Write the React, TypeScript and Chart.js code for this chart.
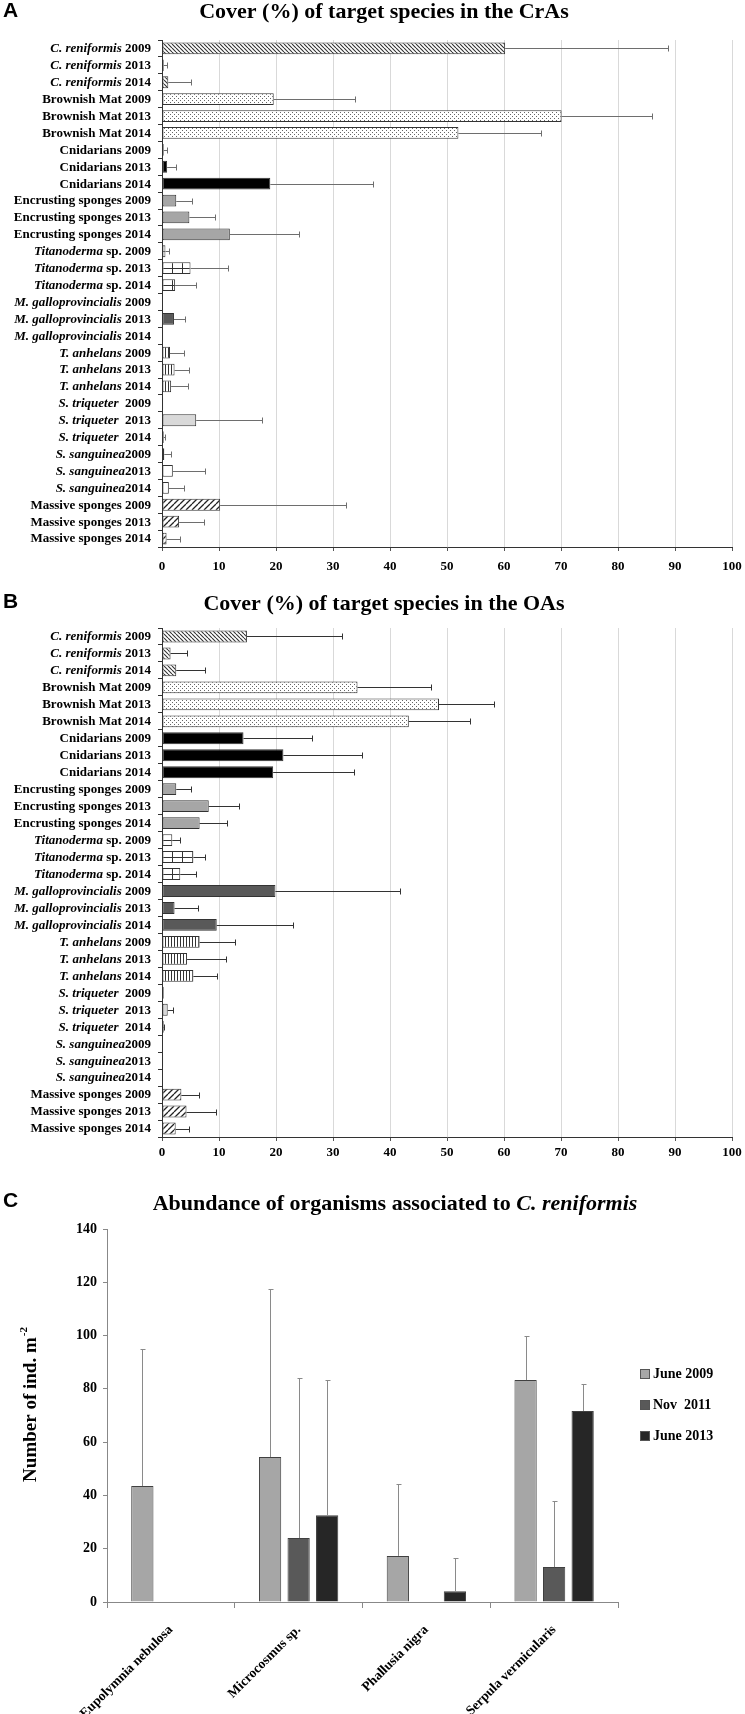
import React, { useEffect, useRef } from "react";
import { Chart, registerables } from "chart.js";

Chart.register(...registerables);

const SERIF = "'Liberation Serif', 'Times New Roman', serif";
const SANS = "'Liberation Sans', Arial, sans-serif";

// ---------- data: panels A and B ----------
const years = ["2009", "2013", "2014"];
const groupItalic = ["C. reniformis", "", "", "", "Titanoderma", "M. galloprovincialis", "T. anhelans", "S. triqueter", "S. sanguinea", ""];
const groupPlain = [" ", "Brownish Mat ", "Cnidarians ", "Encrusting sponges ", " sp. ", " ", " ", "  ", "", "Massive sponges "];

const crasCover = [60.2, 0.3, 1.1, 19.6, 70.1, 52, 0.3, 0.9, 19, 2.5, 4.8, 11.9, 0.6, 5, 2.3, 0, 2.1, 0.2, 1.4, 2.2, 1.6, 0.2, 6, 0.3, 0.4, 1.9, 1.2, 10.2, 3, 0.8];
const crasSD = [28.6, 0.6, 3.9, 14.2, 15.9, 14.5, 0.5, 1.5, 18, 2.8, 4.5, 12.1, 0.7, 6.6, 3.7, 0, 1.9, 0, 2.4, 2.5, 2.9, 0, 11.5, 0.2, 1.1, 5.7, 2.6, 22.1, 4.4, 2.4];

const oasCover = [14.9, 1.5, 2.5, 34.3, 48.6, 43.3, 14.3, 21.3, 19.5, 2.5, 8.2, 6.6, 1.8, 5.5, 3.2, 19.9, 2.2, 9.6, 6.6, 4.4, 5.5, 0.3, 1.0, 0.3, 0, 0.2, 0, 3.4, 4.3, 2.4];
const oasSD = [16.6, 2.9, 5.1, 12.9, 9.7, 10.7, 12, 13.7, 14.1, 2.5, 5.3, 4.8, 1.4, 2, 2.8, 21.9, 4.1, 13.3, 6.2, 6.8, 4.2, 0, 1.0, 0.1, 0, 0, 0, 3.1, 5.1, 2.4];

const coverMin = 0;
const coverMax = 100;
const coverStep = 10;

// ---------- data: panel C ----------
const abundCategories = ["Eupolymnia nebulosa", "Microcosmus sp.", "Phallusia nigra", "Serpula vermicularis"];
const seriesNames = ["June 2009", "Nov  2011", "June 2013"];
const june2009 = [43.5, 54.4, 17.3, 83.3];
const june2009SD = [51.5, 63, 27, 16.5];
const nov2011 = [0, 24, 0, 13.1];
const nov2011SD = [0, 60, 0, 24.8];
const june2013 = [0, 32.6, 4, 71.7];
const june2013SD = [0, 50.7, 12.5, 10];
const abundMin = 0;
const abundMax = 140;
const abundStep = 20;

// ---------- styles ----------
const groupFill = ["hatchDown", "dots", "#000000", "#a6a6a6", "bigGrid", "#595959", "vstripes", "#d9d9d9", "#ffffff", "hatchUp"];
const seriesColors = ["#a6a6a6", "#595959", "#262626"];

const coverLabels = groupItalic.flatMap((it, g) => years.map((y) => it + groupPlain[g] + y));

function tile(w: number, h: number, draw: (g: CanvasRenderingContext2D) => void) {
  const c = document.createElement("canvas");
  c.width = w;
  c.height = h;
  const g = c.getContext("2d")!;
  g.fillStyle = "#ffffff";
  g.fillRect(0, 0, w, h);
  draw(g);
  return c;
}

const tiles: Record<string, HTMLCanvasElement> = {};
function getTile(kind: string) {
  if (tiles[kind]) return tiles[kind];
  let t: HTMLCanvasElement;
  if (kind === "hatchDown") {
    const s = 4;
    t = tile(s, s, (g) => {
      g.strokeStyle = "#333";
      g.lineWidth = 1.1;
      g.beginPath();
      for (const k of [-s, 0, s]) {
        g.moveTo(k, 0);
        g.lineTo(k + s, s);
      }
      g.stroke();
    });
  } else if (kind === "hatchUp") {
    const s = 6;
    t = tile(s, s, (g) => {
      g.strokeStyle = "#222";
      g.lineWidth = 1.3;
      g.beginPath();
      for (const k of [-s, 0, s]) {
        g.moveTo(k, s);
        g.lineTo(k + s, 0);
      }
      g.stroke();
    });
  } else if (kind === "dots") {
    t = tile(4, 4, (g) => {
      g.fillStyle = "#666";
      g.fillRect(0, 0, 1, 1);
      g.fillRect(2, 2, 1, 1);
    });
  } else if (kind === "vstripes") {
    t = tile(3, 2, (g) => {
      g.fillStyle = "#333";
      g.fillRect(0, 0, 1, 2);
    });
  } else {
    // bigGrid
    t = tile(10, 40, (g) => {
      g.fillStyle = "#333";
      g.fillRect(0, 0, 1, 40);
      g.fillRect(0, 0, 10, 1);
    });
  }
  tiles[kind] = t;
  return t;
}

function fillFor(c: any): any {
  const i = c.dataIndex;
  if (i === undefined || i === null) return "#ffffff";
  const kind = groupFill[Math.floor(i / 3)];
  if (kind.startsWith("#")) return kind;
  const chart = c.chart;
  const pat = chart.ctx.createPattern(getTile(kind), "repeat");
  if (kind === "bigGrid" && pat && chart.scales && chart.scales.y && chart.chartArea) {
    const yc = Math.round(chart.scales.y.getPixelForValue(i));
    const xl = Math.round(chart.chartArea.left);
    pat.setTransform(new DOMMatrix([1, 0, 0, 1, xl, yc]));
  }
  return pat;
}

function drawRuns(ctx: CanvasRenderingContext2D, runs: [string, string][], x: number, y: number, align: "left" | "right" | "center") {
  let total = 0;
  for (const [t, f] of runs) {
    ctx.font = f;
    total += ctx.measureText(t).width;
  }
  let cx = align === "left" ? x : align === "right" ? x - total : x - total / 2;
  ctx.textAlign = "left";
  for (const [t, f] of runs) {
    ctx.font = f;
    ctx.fillText(t, cx, y);
    cx += ctx.measureText(t).width;
  }
}

interface CoverGeo {
  top: number;
  xHeight: number;
  tickPad: number;
  titleY: number;
  letterY: number;
  errColor: string;
}

function makeCoverChart(canvas: HTMLCanvasElement, letter: string, title: string, values: number[], sd: number[], geo: CoverGeo) {
  const plugin = {
    id: "cover" + letter,
    afterDatasetsDraw(chart: any) {
      const ctx = chart.ctx as CanvasRenderingContext2D;
      const xs = chart.scales.x;
      const meta = chart.getDatasetMeta(0);
      ctx.save();
      ctx.strokeStyle = geo.errColor;
      ctx.lineWidth = 1;
      meta.data.forEach((bar: any, i: number) => {
        const e = sd[i];
        if (!e) return;
        const x0 = xs.getPixelForValue(values[i]);
        const x1 = xs.getPixelForValue(values[i] + e);
        const yc = Math.round(bar.y) + 0.5;
        const xc = Math.round(x1) + 0.5;
        ctx.beginPath();
        ctx.moveTo(x0, yc);
        ctx.lineTo(xc, yc);
        ctx.moveTo(xc, yc - 3);
        ctx.lineTo(xc, yc + 3);
        ctx.stroke();
      });
      ctx.restore();
    },
    afterDraw(chart: any) {
      const ctx = chart.ctx as CanvasRenderingContext2D;
      const ys = chart.scales.y;
      ctx.save();
      ctx.fillStyle = "#000";
      ctx.textBaseline = "middle";
      coverLabels.forEach((_, i) => {
        const g = Math.floor(i / 3);
        const y = ys.getPixelForValue(i);
        const runs: [string, string][] = [];
        if (groupItalic[g]) runs.push([groupItalic[g], `italic bold 13px ${SERIF}`]);
        runs.push([groupPlain[g] + years[i % 3], `bold 13px ${SERIF}`]);
        drawRuns(ctx, runs, 151, y + 0.5, "right");
      });
      drawRuns(ctx, [[title, `bold 22px ${SERIF}`]], 384, geo.titleY, "center");
      drawRuns(ctx, [[letter, `bold 21px ${SANS}`]], 3, geo.letterY, "left");
      ctx.restore();
    },
  };

  return new Chart(canvas, {
    type: "bar",
    data: {
      labels: coverLabels,
      datasets: [
        {
          data: values,
          backgroundColor: fillFor as any,
          borderColor: "#333",
          borderWidth: 1,
          borderSkipped: false,
          categoryPercentage: 1,
          barPercentage: 0.7,
        } as any,
      ],
    },
    options: {
      indexAxis: "y",
      responsive: false,
      animation: false,
      devicePixelRatio: 1,
      layout: { padding: { top: geo.top, left: 0, right: 13, bottom: 0 } },
      plugins: { legend: { display: false }, tooltip: { enabled: false }, title: { display: false } },
      scales: {
        x: {
          type: "linear",
          min: coverMin,
          max: coverMax,
          ticks: { stepSize: coverStep, color: "#000", padding: geo.tickPad, font: { family: SERIF, weight: "bold", size: 13 } },
          grid: { color: "#d9d9d9", lineWidth: 1, drawTicks: true, tickLength: 4, tickColor: "#555" },
          border: { color: "#333", width: 1 },
          afterFit: (s: any) => {
            s.height = geo.xHeight;
            s.paddingRight = 0;
            s.paddingLeft = 0;
          },
        },
        y: {
          type: "category",
          ticks: { display: false },
          grid: { offset: true, drawOnChartArea: false, drawTicks: true, tickLength: 4, tickColor: "#333" },
          border: { color: "#333", width: 1 },
          afterFit: (s: any) => {
            s.width = 162;
          },
        },
      },
    } as any,
    plugins: [plugin],
  });
}

function makeAbundChart(canvas: HTMLCanvasElement) {
  const sds = [june2009SD, nov2011SD, june2013SD];
  const plugin = {
    id: "abund",
    afterDatasetsDraw(chart: any) {
      const ctx = chart.ctx as CanvasRenderingContext2D;
      const ys = chart.scales.y;
      ctx.save();
      ctx.strokeStyle = "#8a8a8a";
      ctx.lineWidth = 1;
      chart.data.datasets.forEach((ds: any, d: number) => {
        const meta = chart.getDatasetMeta(d);
        meta.data.forEach((bar: any, i: number) => {
          const e = sds[d][i];
          if (!e) return;
          const v = ds.data[i];
          const y0 = ys.getPixelForValue(v);
          const y1 = Math.round(ys.getPixelForValue(v + e)) + 0.5;
          const x = Math.round(bar.x) + 0.5;
          ctx.beginPath();
          ctx.moveTo(x, y0);
          ctx.lineTo(x, y1);
          ctx.moveTo(x - 2, y1);
          ctx.lineTo(x + 3, y1);
          ctx.stroke();
        });
      });
      ctx.restore();
    },
    afterDraw(chart: any) {
      const ctx = chart.ctx as CanvasRenderingContext2D;
      ctx.save();
      ctx.fillStyle = "#000";
      ctx.textBaseline = "middle";
      drawRuns(
        ctx,
        [
          ["Abundance of organisms associated to ", `bold 22px ${SERIF}`],
          ["C. reniformis", `italic bold 22px ${SERIF}`],
        ],
        395,
        34,
        "center"
      );
      drawRuns(ctx, [["C", `bold 21px ${SANS}`]], 3, 31, "left");
      // y axis title
      ctx.save();
      ctx.translate(31, 235);
      ctx.rotate(-Math.PI / 2);
      ctx.font = `bold 19px ${SERIF}`;
      const main = "Number of ind. m";
      const wMain = ctx.measureText(main).width;
      ctx.font = `bold 11px ${SERIF}`;
      const sup = "-2";
      const wSup = ctx.measureText(sup).width;
      const start = -(wMain + wSup) / 2;
      ctx.textAlign = "left";
      ctx.font = `bold 19px ${SERIF}`;
      ctx.fillText(main, start, 0);
      ctx.font = `bold 11px ${SERIF}`;
      ctx.fillText(sup, start + wMain + 1, -7);
      ctx.restore();
      // legend
      const ly = [204, 235, 266];
      seriesNames.forEach((n, i) => {
        ctx.fillStyle = seriesColors[i];
        ctx.fillRect(640, ly[i] - 5, 10, 10);
        ctx.strokeStyle = "#555";
        ctx.lineWidth = 1;
        ctx.strokeRect(640.5, ly[i] - 4.5, 9, 9);
        ctx.fillStyle = "#000";
        drawRuns(ctx, [[n, `bold 14px ${SERIF}`]], 653, ly[i], "left");
      });
      ctx.restore();
    },
  };

  const values = [june2009, nov2011, june2013];
  return new Chart(canvas, {
    type: "bar",
    data: {
      labels: abundCategories,
      datasets: values.map((v, i) => ({
        label: seriesNames[i],
        data: v,
        backgroundColor: seriesColors[i],
        borderColor: "#404040",
        borderWidth: 1,
        categoryPercentage: 0.67,
        barPercentage: 0.78,
      })),
    },
    options: {
      responsive: false,
      animation: false,
      devicePixelRatio: 1,
      layout: { padding: { top: 59, left: 0, right: 127, bottom: 0 } },
      plugins: { legend: { display: false }, tooltip: { enabled: false }, title: { display: false } },
      scales: {
        x: {
          ticks: { color: "#000", minRotation: 45, maxRotation: 45, padding: 14, autoSkip: false, font: { family: SERIF, weight: "bold", size: 13.5 } },
          grid: { offset: true, drawOnChartArea: false, drawTicks: true, tickLength: 6, tickColor: "#888" },
          border: { color: "#888", width: 1 },
          afterFit: (s: any) => {
            s.height = 112;
            s.paddingRight = 0;
            s.paddingLeft = 0;
          },
        },
        y: {
          min: abundMin,
          max: abundMax,
          ticks: { stepSize: abundStep, color: "#000", padding: 6, font: { family: SERIF, weight: "bold", size: 14 } },
          grid: { drawOnChartArea: false, drawTicks: true, tickLength: 4, tickColor: "#888" },
          border: { color: "#888", width: 1 },
          afterFit: (s: any) => {
            s.width = 107;
          },
        },
      },
    } as any,
    plugins: [plugin],
  });
}

export default function App() {
  const refA = useRef<HTMLCanvasElement>(null);
  const refB = useRef<HTMLCanvasElement>(null);
  const refC = useRef<HTMLCanvasElement>(null);

  useEffect(() => {
    const charts: Chart[] = [];
    if (refA.current)
      charts.push(
        makeCoverChart(refA.current, "A", "Cover (%) of target species in the CrAs", crasCover, crasSD, {
          top: 40,
          xHeight: 43,
          tickPad: 8,
          titleY: 12,
          letterY: 11,
          errColor: "#6e6e6e",
        })
      );
    if (refB.current)
      charts.push(
        makeCoverChart(refB.current, "B", "Cover (%) of target species in the OAs", oasCover, oasSD, {
          top: 38,
          xHeight: 33,
          tickPad: 4,
          titleY: 14,
          letterY: 12,
          errColor: "#333333",
        })
      );
    if (refC.current) charts.push(makeAbundChart(refC.current));
    return () => charts.forEach((c) => c.destroy());
  }, []);

  return (
    <div style={{ position: "absolute", left: 0, top: 0, width: 745, height: 1714, background: "#fff" }}>
      <canvas ref={refA} width={745} height={590} style={{ position: "absolute", left: 0, top: 0, width: 745, height: 590 }} />
      <canvas ref={refB} width={745} height={580} style={{ position: "absolute", left: 0, top: 590, width: 745, height: 580 }} />
      <canvas ref={refC} width={745} height={544} style={{ position: "absolute", left: 0, top: 1170, width: 745, height: 544 }} />
    </div>
  );
}
